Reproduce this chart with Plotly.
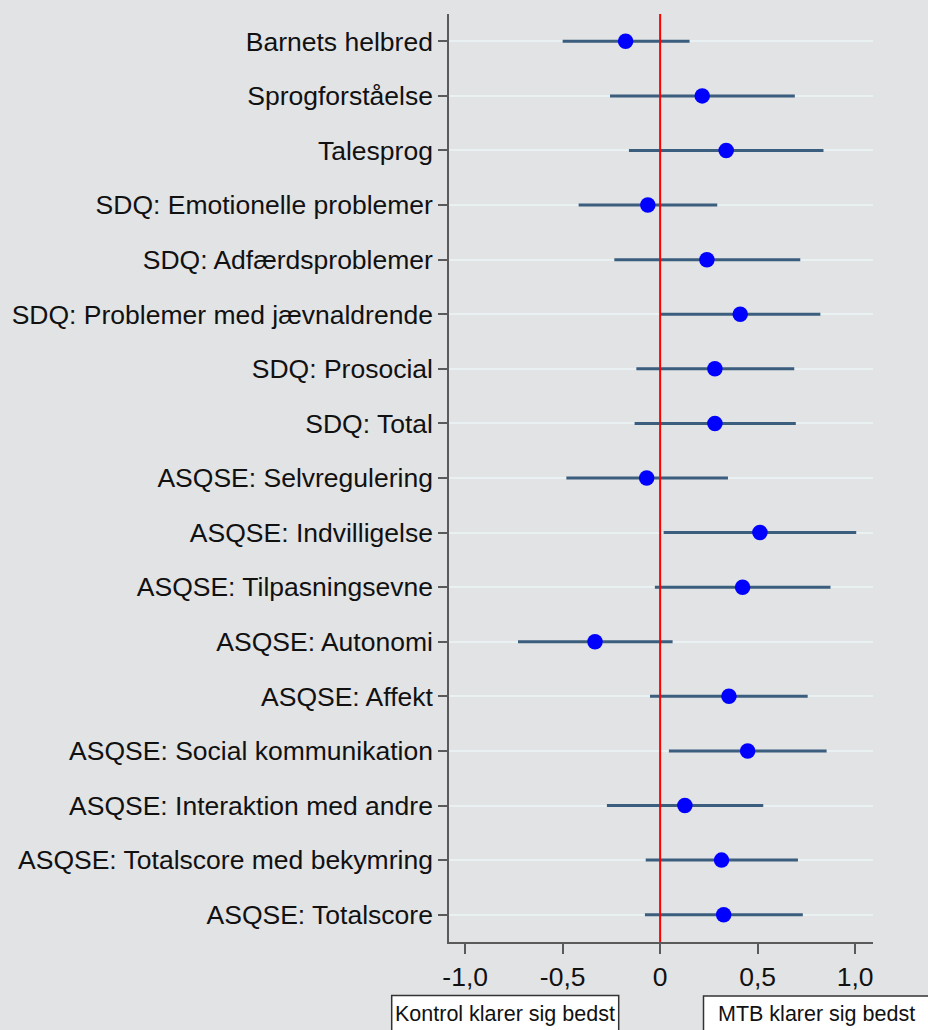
import plotly.graph_objects as go

# ---- data ----
labels = [
    "Barnets helbred",
    "Sprogforståelse",
    "Talesprog",
    "SDQ: Emotionelle problemer",
    "SDQ: Adfærdsproblemer",
    "SDQ: Problemer med jævnaldrende",
    "SDQ: Prosocial",
    "SDQ: Total",
    "ASQSE: Selvregulering",
    "ASQSE: Indvilligelse",
    "ASQSE: Tilpasningsevne",
    "ASQSE: Autonomi",
    "ASQSE: Affekt",
    "ASQSE: Social kommunikation",
    "ASQSE: Interaktion med andre",
    "ASQSE: Totalscore med bekymring",
    "ASQSE: Totalscore",
]
estimate = [-0.177, 0.216, 0.339, -0.063, 0.240, 0.411, 0.281, 0.281, -0.069,
            0.512, 0.423, -0.334, 0.353, 0.449, 0.127, 0.315, 0.326]
ci_low = [-0.500, -0.257, -0.160, -0.418, -0.235, 0.004, -0.122, -0.131, -0.481,
          0.018, -0.027, -0.729, -0.052, 0.045, -0.273, -0.074, -0.078]
ci_high = [0.151, 0.691, 0.838, 0.293, 0.719, 0.822, 0.688, 0.696, 0.348,
           1.006, 0.874, 0.064, 0.757, 0.854, 0.529, 0.707, 0.732]

x_tickvals = [-1.0, -0.5, 0.0, 0.5, 1.0]
x_ticktext = ["-1,0", "-0,5", "0", "0,5", "1,0"]
left_note = "Kontrol klarer sig bedst"
right_note = "MTB klarer sig bedst"

# ---- style ----
BG = "#e2e3e5"
GRID = "#eaf1f2"
AXIS = "#5a5a5a"
CI_COLOR = "#3b5d7e"
FONT = "Arial, Liberation Sans, sans-serif"

err_plus = [h - e for h, e in zip(ci_high, estimate)]
err_minus = [e - l for e, l in zip(estimate, ci_low)]

fig = go.Figure()

# confidence intervals (error bars without caps), invisible marker
fig.add_trace(go.Scatter(
    x=estimate, y=labels, mode="markers",
    marker=dict(size=1, color="rgba(0,0,0,0)"),
    error_x=dict(type="data", symmetric=False, array=err_plus,
                 arrayminus=err_minus, color=CI_COLOR, thickness=3, width=0),
    hoverinfo="skip", showlegend=False,
))

# zero reference line
fig.add_shape(type="line", xref="x", yref="paper", x0=0, x1=0, y0=0, y1=1,
              line=dict(color="#ff0000", width=2), layer="above")

# point estimates
fig.add_trace(go.Scatter(
    x=estimate, y=labels, mode="markers",
    marker=dict(size=15.5, color="#0000ff", line=dict(width=0)),
    showlegend=False,
))

fig.update_layout(
    width=928, height=1030, autosize=False,
    paper_bgcolor=BG, plot_bgcolor=BG,
    margin=dict(l=449, r=55, t=14, b=88),
    font=dict(family=FONT, color="#111111"),
    showlegend=False,
)

fig.update_yaxes(
    type="category", categoryorder="array", categoryarray=labels,
    range=[len(labels) - 0.5, -0.5],
    showgrid=True, gridcolor=GRID, gridwidth=2,
    showline=True, linecolor=AXIS, linewidth=1.6,
    ticks="outside", ticklen=9, tickwidth=1.6, tickcolor=AXIS,
    tickfont=dict(size=26.5, family=FONT, color="#111111"),
    ticklabelstandoff=0,
    zeroline=False,
)

fig.update_xaxes(
    range=[-1.083, 1.092],
    tickvals=x_tickvals, ticktext=x_ticktext,
    showgrid=False, zeroline=False,
    showline=True, linecolor=AXIS, linewidth=1.6,
    ticks="outside", ticklen=10, tickwidth=1.6, tickcolor=AXIS,
    tickfont=dict(size=26.5, family=FONT, color="#111111"),
)

# bottom note boxes (extend beyond page bottom like the reference)
fig.add_shape(type="rect", xref="paper", yref="paper",
              x0=(391.7 - 449) / 424, x1=(618.7 - 449) / 424,
              y0=-(1050 - 942) / 928, y1=-(995.5 - 942) / 928,
              line=dict(color="#333333", width=1.5), fillcolor="white", layer="above")
fig.add_shape(type="rect", xref="paper", yref="paper",
              x0=(703.5 - 449) / 424, x1=(960 - 449) / 424,
              y0=-(1050 - 942) / 928, y1=-(996 - 942) / 928,
              line=dict(color="#333333", width=1.5), fillcolor="white", layer="above")

fig.add_annotation(text=left_note, xref="paper", yref="paper",
                   x=(505 - 449) / 424, y=-(1014 - 942) / 928,
                   xanchor="center", yanchor="middle", showarrow=False,
                   font=dict(size=21.5, family=FONT, color="#111111"))
fig.add_annotation(text=right_note, xref="paper", yref="paper",
                   x=(716 - 449) / 424, y=-(1014 - 942) / 928,
                   xanchor="left", yanchor="middle", showarrow=False,
                   font=dict(size=21.5, family=FONT, color="#111111"))

fig.write_html(
    "out.html",
    config={"displayModeBar": False},
    post_script="document.body.style.margin='0';document.body.style.background='%s';"
                "document.body.style.overflow='hidden';" % BG,
)
